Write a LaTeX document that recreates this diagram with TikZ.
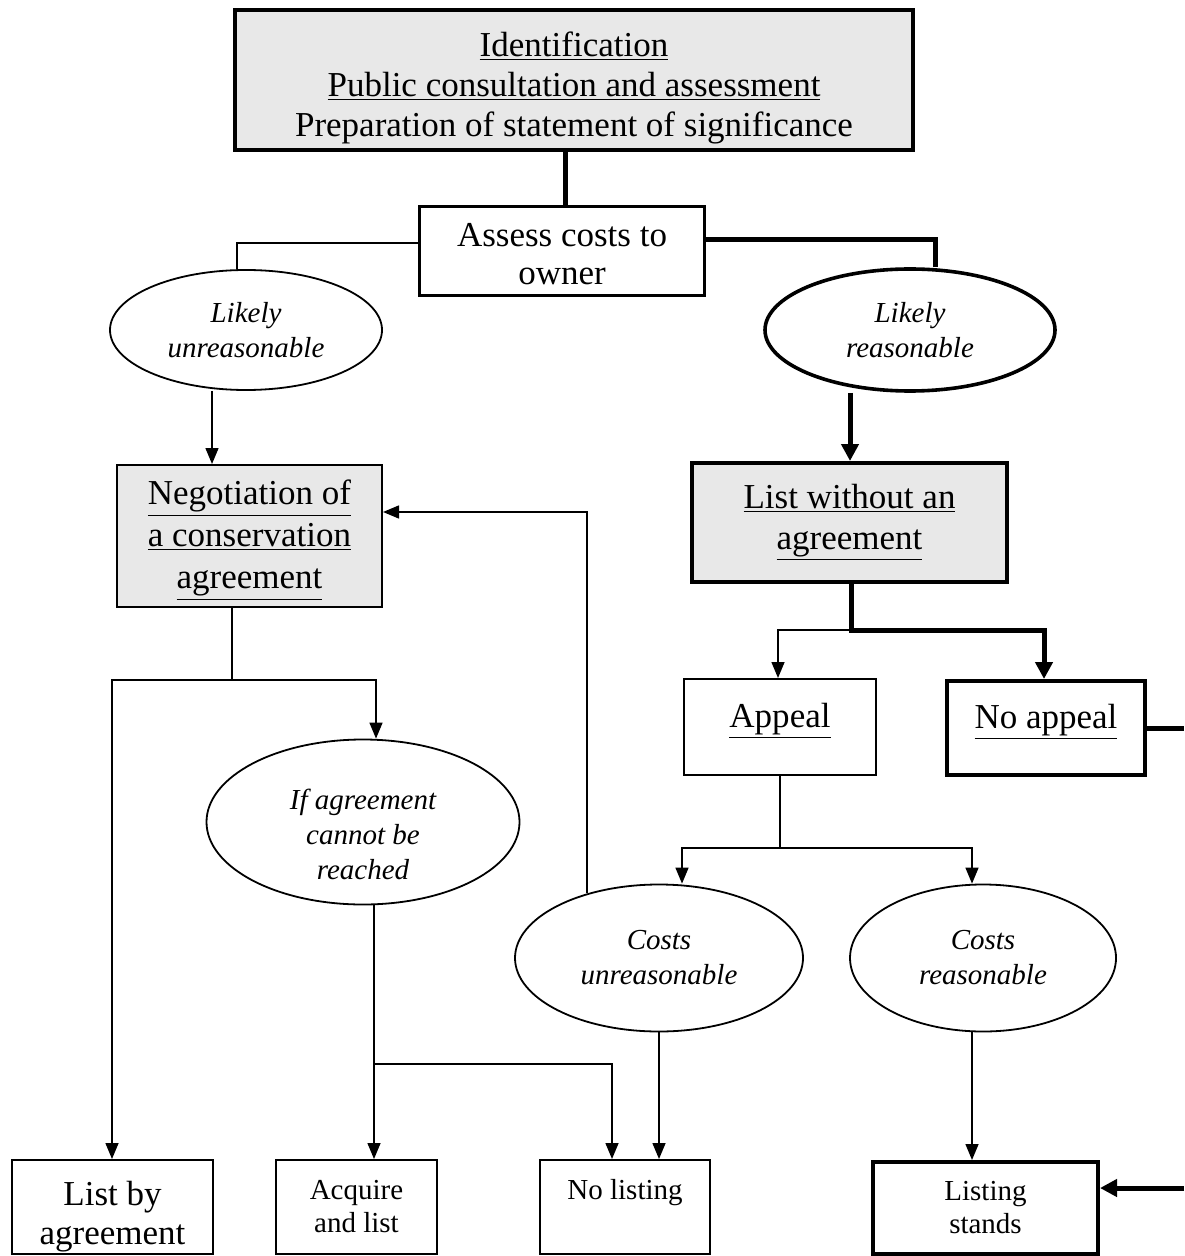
\documentclass[tikz,border=0pt]{standalone}
\usepackage{fontspec}
\setmainfont{Liberation Serif}
\usetikzlibrary{shapes.geometric,arrows.meta}
\definecolor{boxgray}{HTML}{E8E8E8}
\newcommand{\dropby}[1]{\rule{0pt}{#1}}
\begin{document}
\begin{tikzpicture}[x=0.5pt,y=-0.5pt,
  bigtxt/.style={font=\fontsize{17.5}{20.5}\selectfont},
  smalltxt/.style={font=\fontsize{14.5}{16.5}\selectfont},
  box/.style={draw, line width=1pt, inner sep=0pt, align=center, rectangle},
  thickbox/.style={box, line width=2pt},
  oval/.style={draw, ellipse, line width=0.9pt, inner sep=0pt, align=center,
    font=\fontsize{14.5}{17.5}\selectfont\itshape},
  thinline/.style={line width=0.75pt},
  thickline/.style={line width=2.5pt},
  thinarr/.style={thinline,-{Triangle[length=8pt,width=6.5pt]}},
  thickarr/.style={thickline,-{Triangle[length=8.5pt,width=8.5pt]}}]
\useasboundingbox (0,0) rectangle (1184,1256);

% nodes
\node[thickbox, fill=boxgray, minimum width=339pt, minimum height=70pt,
  font=\fontsize{17.5}{20}\selectfont] (top) at (574,80)
  {\dropby{20pt}\underline{Identification}\\ \underline{Public consultation and assessment}\\ Preparation of statement of significance};
\node[box, line width=1.6pt, minimum width=142.5pt, minimum height=44.5pt,
  font=\fontsize{17.5}{19}\selectfont] (assess) at (562,251) {\dropby{15pt}Assess costs to\\owner};
\node[oval, minimum width=136pt, minimum height=60pt] (likU) at (246,330) {Likely\\unreasonable};
\node[oval, line width=1.8pt, minimum width=145pt, minimum height=61pt] (likR) at (910,330) {Likely\\reasonable};
\node[box, fill=boxgray, minimum width=132.5pt, minimum height=71pt,
  font=\fontsize{17.5}{21}\selectfont] (nego) at (249.5,536)
  {\dropby{16.5pt}\underline{Negotiation of}\\ \underline{a conservation}\\ \underline{agreement}};
\node[thickbox, bigtxt, fill=boxgray, minimum width=157.5pt, minimum height=59.5pt] (listw) at (849.5,522.5)
  {\underline{List without an}\\ \underline{agreement}};
\node[box, bigtxt, minimum width=96pt, minimum height=48pt, text height=14pt, text depth=14pt] (appeal) at (780,727)
  {\underline{Appeal}};
\node[thickbox, bigtxt, minimum width=99pt, minimum height=47pt, text height=14pt, text depth=14pt] (noapp) at (1046,728)
  {\underline{No appeal}};
\node[oval, minimum width=156.5pt, minimum height=82.5pt] (ifag) at (363,822)
  {\dropby{23pt}If agreement\\cannot be\\reached};
\node[oval, minimum width=144pt, minimum height=73.5pt] (cu) at (659,958) {Costs\\unreasonable};
\node[oval, minimum width=133pt, minimum height=73.5pt] (cr) at (983,958) {Costs\\reasonable};
\node[box, minimum width=100.5pt, minimum height=47pt,
  font=\fontsize{17.5}{19.5}\selectfont] (lba) at (112.5,1207) {\dropby{21.5pt}List by\\agreement};
\node[box, smalltxt, minimum width=80.5pt, minimum height=47pt] (acq) at (356.5,1207) {Acquire\\and list};
\node[box, smalltxt, minimum width=85pt, minimum height=47pt, text height=12pt, text depth=20pt] (nol) at (625,1207) {No listing};
\node[thickbox, smalltxt, minimum width=112.5pt, minimum height=46pt] (stands) at (985.5,1208) {Listing\\stands};

% split points
\coordinate (nsplit) at (232,680);
\coordinate (lsplit) at (851,630);
\coordinate (asplit) at (780,848);
\coordinate (isplit) at (374,1064);
\coordinate (edgeA) at (1184,728);
\coordinate (edgeB) at (1184,1188);

% connectors
\draw[thickline] (top.south -| 565,0) -- (assess.north -| 565,0);
\draw[thinline] (assess.west |- 0,243) -| (likU.north -| 237,0);
\draw[thickline] (assess.east |- 0,240) -| (likR.north -| 935,0);
\draw[thinarr] (likU.south -| 212,0) -- (nego.north -| 212,0);
\draw[thickarr] (likR.south -| 850,0) -- (listw.north -| 850,0);

\draw[thinline] (nego.south -| nsplit) -- (nsplit);
\draw[thinarr] (nsplit) -| (lba.north -| 112,0);
\draw[thinarr] (nsplit) -| (ifag.north -| 376,0);

\draw[thinarr] (lsplit) -| (appeal.north -| 778,0);
\draw[thickarr] (listw.south -| lsplit) -- (lsplit) -| (noapp.north -| 1044,0);

\draw[thinline] (appeal.south) -- (asplit);
\draw[thinarr] (asplit) -| (cu.north -| 682,0);
\draw[thinarr] (asplit) -| (cr.north -| 972,0);

\draw[thinarr] (cu.138) |- (nego.east |- 0,512);
\draw[thinarr] (cu.south) -- (nol.north -| cu.south);
\draw[thinarr] (cr.south -| 972,0) -- (stands.north -| 972,0);

\draw[thinline] (ifag.south -| isplit) -- (isplit);
\draw[thinarr] (isplit) -- (acq.north -| isplit);
\draw[thinarr] (isplit) -| (nol.north -| 612,0);

\draw[thickline] (noapp.east) -- (edgeA);
\draw[thickarr] (edgeB) -- (stands.east |- edgeB);
\end{tikzpicture}
\end{document}
